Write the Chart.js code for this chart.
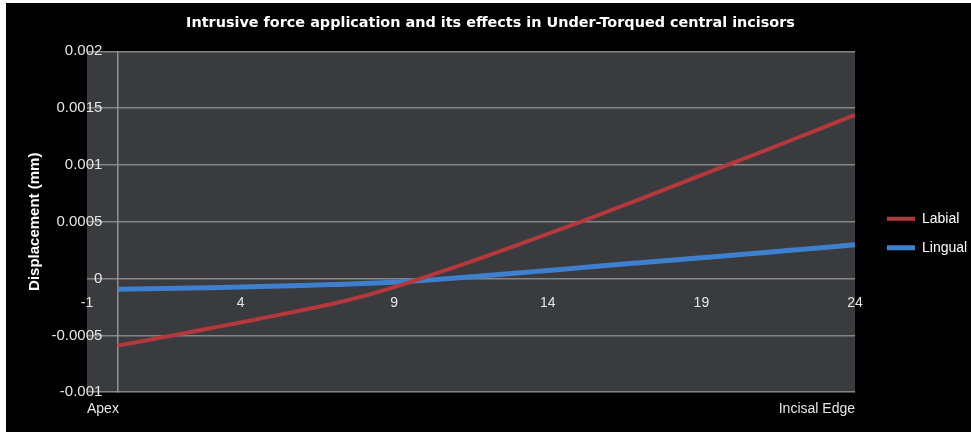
<!DOCTYPE html>
<html>
<head>
<meta charset="utf-8">
<script src="https://cdn.jsdelivr.net/npm/chart.js@4.4.0/dist/chart.umd.min.js"></script>
<style>
    html, body { margin: 0; padding: 0; background: #fff; }
    #wrap { position: absolute; left: 6px; top: 3px; width: 965px; height: 429px; background: #000; }
</style>
</head>
<body>
<div id="wrap"><canvas id="chart"></canvas></div>
<script>
// data
const chart_title = 'Intrusive force application and its effects in Under-Torqued central incisors'
const y_title = 'Displacement (mm)'
const positions = [0, 1, 2, 3, 4, 5, 6, 7, 8, 9, 10, 11, 12, 13, 14, 15, 16, 17, 18, 19, 20, 21, 22, 23, 24]
const labial = [-0.00059, -0.00054, -0.00049, -0.000438, -0.000386, -0.000333, -0.000279, -0.000222, -0.000155, -0.000076,
    0.000012, 0.000103, 0.000198, 0.000295, 0.000393, 0.000493, 0.000596, 0.0007, 0.000805, 0.00091,
    0.001015, 0.00112, 0.001226, 0.001333, 0.00144]
const lingual = [-0.000095, -0.00009, -0.000085, -0.00008, -0.000074, -0.000068, -0.000061, -0.000053, -0.000044, -0.000032,
    -0.000016, 0.000004, 0.000026, 0.000048, 0.000071, 0.000094, 0.000117, 0.000139, 0.000161, 0.000183,
    0.000205, 0.000228, 0.000251, 0.000274, 0.000297]
const x_ticks = [-1, 4, 9, 14, 19, 24]
const y_ticks = [-0.001, -0.0005, 0, 0.0005, 0.001, 0.0015, 0.002]
const y_tick_labels = ['-0.001', '-0.0005', '0', '0.0005', '0.001', '0.0015', '0.002']
const end_ticks = [-1, 24]
const end_labels = ['Apex', 'Incisal Edge']

Chart.defaults.font.family = 'Liberation Sans'
Chart.defaults.color = '#e6e6e6'

// grey plot area behind the grid
const plot_bg = {
    id: 'plot_bg',
    beforeDraw(chart) {
        const {ctx, chartArea} = chart
        ctx.save()
        ctx.fillStyle = '#3a3b3e'
        ctx.fillRect(chartArea.left, chartArea.top, chartArea.right - chartArea.left, chartArea.bottom - chartArea.top)
        ctx.restore()
    }
}

function points(values) {
    return positions.map((x, i) => ({x: x, y: values[i]}))
}

const tick_font = {family: 'Liberation Sans', size: 14}

new Chart(document.getElementById('chart'), {
    type: 'line',
    data: {
        datasets: [{
            label: 'Labial',
            data: points(labial),
            borderColor: '#b5383d',
            backgroundColor: '#b5383d',
            borderWidth: 4,
            pointRadius: 0,
            cubicInterpolationMode: 'monotone'
        }, {
            label: 'Lingual',
            data: points(lingual),
            borderColor: '#3f7fcf',
            backgroundColor: '#3f7fcf',
            borderWidth: 5,
            pointRadius: 0,
            cubicInterpolationMode: 'monotone'
        }]
    },
    options: {
        responsive: true,
        maintainAspectRatio: false,
        animation: false,
        layout: {padding: {left: 4, top: 0, right: 0, bottom: 5}},
        scales: {
            x: {
                type: 'linear', axis: 'x', position: {y: 0},
                min: -1, max: 24,
                afterBuildTicks: s => { s.ticks = x_ticks.map(v => ({value: v})) },
                grid: {display: false, drawTicks: false},
                border: {display: false},
                ticks: {color: '#e6e6e6', font: tick_font, padding: 16, maxRotation: 0, autoSkip: false}
            },
            xb: {
                type: 'linear', axis: 'x', position: 'bottom',
                min: -1, max: 24,
                afterBuildTicks: s => { s.ticks = end_ticks.map(v => ({value: v})) },
                grid: {display: false, drawTicks: false},
                border: {display: false},
                ticks: {
                    align: 'inner', padding: 9, maxRotation: 0, autoSkip: false,
                    color: '#e6e6e6', font: tick_font,
                    callback: (v, i) => end_labels[i]
                }
            },
            // y axis line at x = 0 with the horizontal grid
            y: {
                type: 'linear', axis: 'y', position: {x: 0},
                min: -0.001, max: 0.002,
                afterBuildTicks: s => { s.ticks = y_ticks.map(v => ({value: v})) },
                grid: {color: '#858585', lineWidth: 1.5, drawTicks: false},
                border: {display: true, color: '#909090', width: 1.5},
                ticks: {display: false}
            },
            // tick labels, a bit left of the axis line
            ylab: {
                type: 'linear', axis: 'y', position: {x: -0.5},
                min: -0.001, max: 0.002,
                afterBuildTicks: s => { s.ticks = y_ticks.map(v => ({value: v})) },
                grid: {display: false, drawTicks: false},
                border: {display: false},
                ticks: {
                    color: '#e6e6e6',
                    font: {family: 'Liberation Sans', size: 15},
                    callback: (v, i) => y_tick_labels[i]
                }
            },
            yt: {
                type: 'linear', axis: 'y', position: 'left',
                grid: {display: false, drawTicks: false},
                border: {display: false},
                ticks: {display: false},
                title: {
                    display: true, text: y_title, color: '#ffffff',
                    font: {family: 'Liberation Sans', size: 15, weight: 'bold'},
                    padding: {top: 16, bottom: 43}
                }
            },
            yr: {
                type: 'linear', axis: 'y', position: 'right',
                grid: {display: false, drawTicks: true, tickLength: 17},
                border: {display: false},
                ticks: {display: false}
            }
        },
        plugins: {
            title: {
                display: true,
                text: chart_title,
                color: '#ffffff',
                font: {family: 'DejaVu Sans', size: 14.4, weight: 'bold'},
                padding: {top: 12, bottom: 19}
            },
            legend: {
                position: 'right',
                align: 'start',
                fullSize: false,
                maxWidth: 99,
                // empty title only pushes the items down to mid height
                title: {display: true, text: ' ', font: {size: 12}, padding: {top: 0, bottom: 131}},
                labels: {
                    usePointStyle: true,
                    pointStyle: 'line',
                    pointStyleWidth: 28,
                    padding: 15,
                    color: '#ffffff',
                    font: {family: 'Liberation Sans', size: 14}
                }
            },
            tooltip: {enabled: false}
        }
    },
    plugins: [plot_bg]
});
</script>
</body>
</html>
